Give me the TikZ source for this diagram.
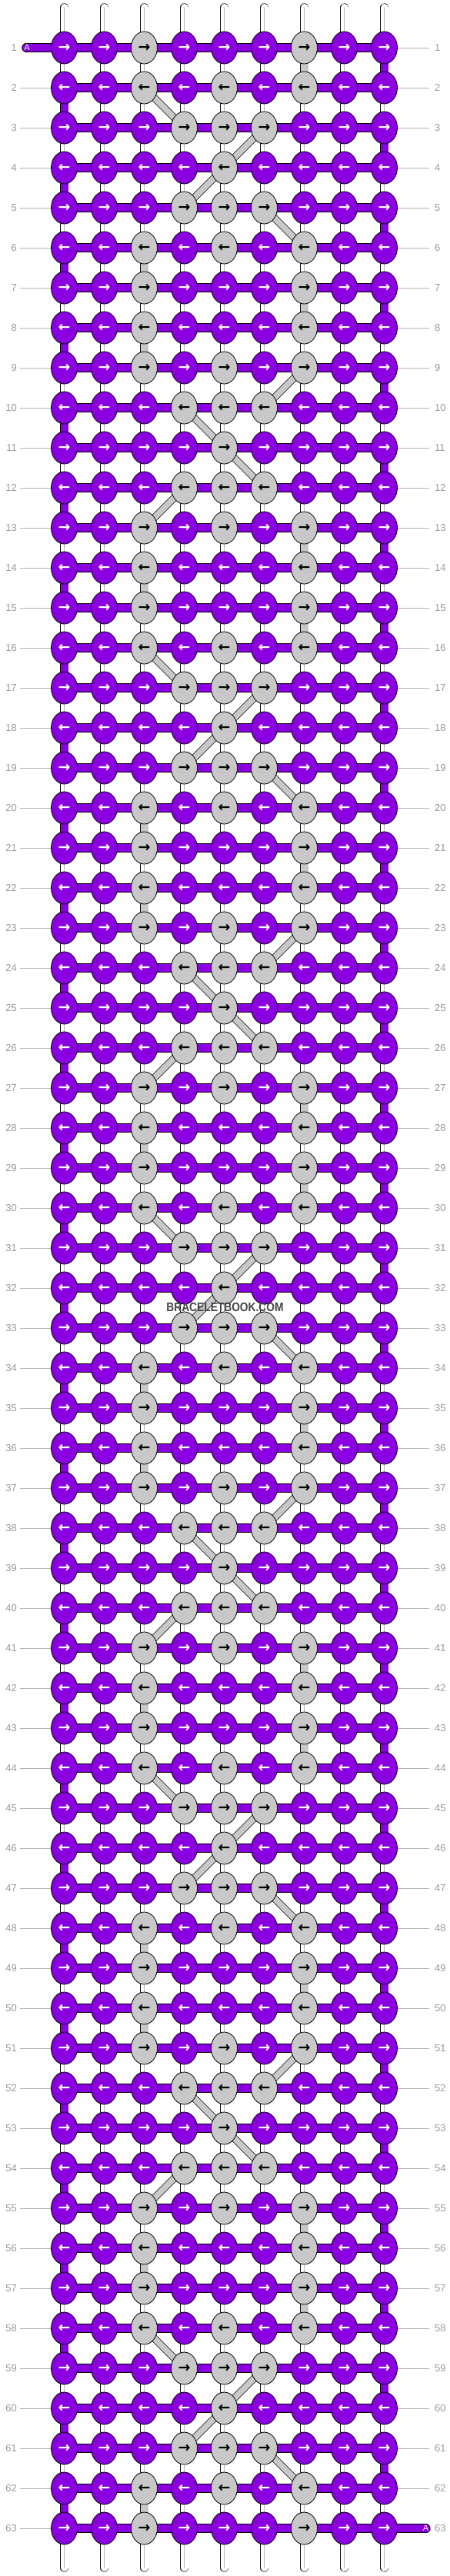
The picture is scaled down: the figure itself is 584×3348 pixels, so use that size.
\documentclass[tikz,border=0pt]{standalone}
\usepackage{fontspec}
\setmainfont{Liberation Sans}
\newfontfamily\arrowfont{DejaVu Sans}
\newfontfamily\markfont[FakeStretch=0.86]{Liberation Sans}
\usetikzlibrary{shapes.geometric}

\definecolor{threadA}{HTML}{8A00E0}
\definecolor{threadB}{HTML}{C8C8C8}
\definecolor{rowgray}{HTML}{9A9A9A}
\definecolor{guidegray}{HTML}{B4B4B4}
\definecolor{markgray}{HTML}{444444}

\pgfdeclarelayer{bg}
\pgfsetlayers{bg,main}

% knot colours of the 7-row motif (1 = thread B)
\def\knotmap{{0,0,1,0,0,0,1,0,0,
              0,0,1,0,1,0,1,0,0,
              0,0,0,1,1,1,0,0,0,
              0,0,0,0,1,0,0,0,0,
              0,0,0,1,1,1,0,0,0,
              0,0,1,0,1,0,1,0,0,
              0,0,1,0,0,0,1,0,0}}
% column of the thread-B link under row r, by r mod 14 (0 = none)
\def\linkmap{{3,7,0,0,0,0,3,7,3,0,0,0,0,7}}

\tikzset{
  knot/.style={ellipse, draw=black, line width=0.8pt, minimum width=34pt,
    minimum height=42pt, inner sep=0pt,
    font=\arrowfont\bfseries\fontsize{19}{19}\selectfont},
  knotA/.style={knot, fill=threadA, text=white},
  knotB/.style={knot, fill=threadB, text=black},
  bar/.style={draw=black, line width=11.4pt, postaction={draw=#1, line width=10pt}},
  strand/.style={bar=white, postaction={draw=guidegray, line width=0.6pt}},
  cross/.style={draw=black, line width=9.4pt, postaction={draw=threadB, line width=8pt}},
  rownum/.style={text=rowgray, font=\fontsize{13}{13}\selectfont, inner sep=0pt},
  guide/.style={draw=guidegray, line width=0.8pt},
  tabtext/.style={text=white, font=\fontsize{11}{11}\selectfont, inner sep=0pt},
}

\begin{document}
\begin{tikzpicture}[x=1pt, y=-1pt]
\useasboundingbox (0,0) rectangle (584,3348);

% knots
\foreach \r in {1,...,63} {
  \foreach \c in {1,...,9} {
    \pgfmathtruncatemacro\g{\knotmap[mod(\r-1,7)*9+\c-1]}
    \ifodd\r \def\ar{→}\else \def\ar{←}\fi
    \ifnum\g=1 \tikzset{kfill/.style={knotB}}\else \tikzset{kfill/.style={knotA}}\fi
    \node[kfill] (k-\r-\c) at ({83.5+52*(\c-1)}, {62+52*(\r-1)}) {\ar};
  }
}

% row numbers
\foreach \r in {1,...,63} {
  \node[rownum, anchor=east] (ll-\r) at (22, {62+52*(\r-1)}) {\r};
  \node[rownum, anchor=west] (lr-\r) at (565, {62+52*(\r-1)}) {\r};
}

\node[tabtext] (tab-s-A) at (35,62) {A};
\node[tabtext] (tab-e-A) at (553.5,3286) {A};

\begin{pgfonlayer}{bg}
  \fill[white] (0,0) rectangle (584,3348);

  % rows
  \foreach \r in {1,...,63} {
    \foreach \c in {1,...,8} {
      \pgfmathtruncatemacro\cn{\c+1}
      \draw[bar=threadA] (k-\r-\c.center) -- (k-\r-\cn.center);
    }
  }

  % links between rows
  \foreach \r in {1,...,62} {
    \pgfmathtruncatemacro\rn{\r+1}
    \pgfmathtruncatemacro\lcol{\linkmap[mod(\r,14)]}
    \foreach \c in {1,...,9} {
      \tikzset{vseg/.style={strand}}
      \ifnum\c=\lcol\relax \tikzset{vseg/.style={bar=threadB}}\fi
      \ifnum\c=1 \ifodd\r\relax\else \tikzset{vseg/.style={bar=threadA}}\fi\fi
      \ifnum\c=9 \ifodd\r\relax \tikzset{vseg/.style={bar=threadA}}\fi\fi
      \draw[vseg] (k-\r-\c.center) -- (k-\rn-\c.center);
    }
  }

  % carried threads
  \foreach \s in {2,16,30,44,58} {
    \pgfmathtruncatemacro\sa{\s+1}
    \pgfmathtruncatemacro\sb{\s+2}
    \pgfmathtruncatemacro\sc{\s+3}
    \pgfmathtruncatemacro\sd{\s+4}
    \draw[cross] (k-\s-3.center) -- (k-\sa-4.center);
    \draw[cross] (k-\sa-6.center) -- (k-\sb-5.center);
    \draw[cross] (k-\sb-5.center) -- (k-\sc-4.center);
    \draw[cross] (k-\sc-6.center) -- (k-\sd-7.center);
  }
  \foreach \s in {9,23,37,51} {
    \pgfmathtruncatemacro\sa{\s+1}
    \pgfmathtruncatemacro\sb{\s+2}
    \pgfmathtruncatemacro\sc{\s+3}
    \pgfmathtruncatemacro\sd{\s+4}
    \draw[cross] (k-\s-7.center) -- (k-\sa-6.center);
    \draw[cross] (k-\sa-4.center) -- (k-\sb-5.center);
    \draw[cross] (k-\sb-5.center) -- (k-\sc-6.center);
    \draw[cross] (k-\sc-4.center) -- (k-\sd-3.center);
  }

  % loose ends
  \foreach \c in {1,...,9} {
    \coordinate (top-\c) at ({83.5+52*(\c-1)}, 10);
    \coordinate (bot-\c) at ({83.5+52*(\c-1)}, 3337);
    \draw[strand, line cap=round] (top-\c) -- (k-1-\c.center);
    \draw[strand, line cap=round] (k-63-\c.center) -- (bot-\c);
  }
  \coordinate (tab-s) at (34,62);
  \coordinate (tab-e) at (554,3286);
  \draw[bar=threadA, line cap=round] (tab-s) -- (k-1-1.center);
  \draw[bar=threadA, line cap=round] (k-63-9.center) -- (tab-e);

  % guides to the row numbers
  \foreach \r in {2,...,63}
    \draw[guide] ([xshift=4pt]ll-\r.east) -- (k-\r-1);
  \foreach \r in {1,...,62}
    \draw[guide] (k-\r-9) -- ([xshift=-7pt]lr-\r.west);
\end{pgfonlayer}

\node[font=\markfont\bfseries\fontsize{16}{16}\selectfont, text=markgray] (mark)
  at (292.5,1699) {BRACELETBOOK.COM};
\end{tikzpicture}
\end{document}
